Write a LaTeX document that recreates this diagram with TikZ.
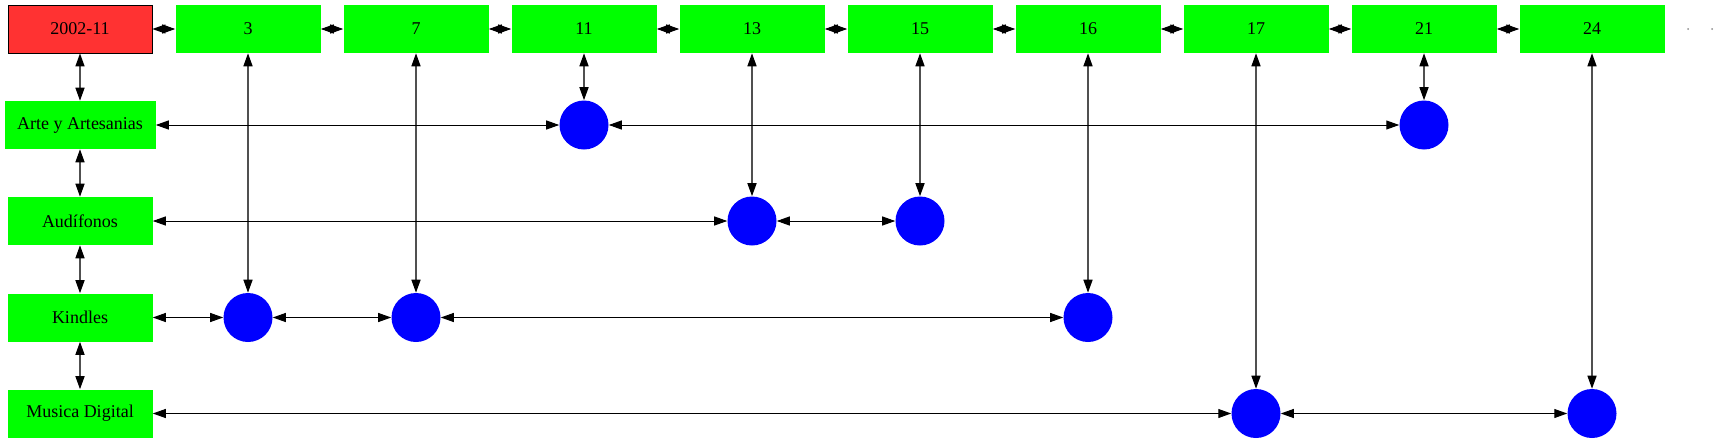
\documentclass[tikz,border=0pt]{standalone}
\usepackage{fontspec}
\setmainfont{Liberation Serif}
\usetikzlibrary{arrows.meta}
\definecolor{hdr}{RGB}{0, 255, 0}
\definecolor{now}{RGB}{255, 50, 50}
\definecolor{hit}{RGB}{0, 0, 255}
\definecolor{vln}{RGB}{80, 80, 80}

\begin{document}
\begin{tikzpicture}[x=0.75pt, y=-0.75pt,
    every node/.style={font=\fontsize{13.5}{16}\selectfont, inner sep=0pt},
    hbox/.style={fill=hdr, minimum width=108.75pt, minimum height=36pt},
    dbox/.style={fill=now, draw=black, line width=0.6pt, minimum width=108pt, minimum height=36pt},
    hit/.style={circle, fill=hit, minimum size=36.75pt},
    tip/.style={{Triangle[length=9.75pt, width=6.75pt, color=black]}-{Triangle[length=9.75pt, width=6.75pt, color=black]}},
    hl/.style={tip, draw=black, line width=0.75pt},
    vl/.style={tip, draw=vln, line width=1.1pt}]
      \useasboundingbox (0, 0) rectangle (1719, 443);
      % header row
      \node[dbox] (d) at (80, 29) {2002-11};
      \node[hbox] (h3) at (248, 29) {3};
      \node[hbox] (h7) at (416, 29) {7};
      \node[hbox] (h11) at (584, 29) {11};
      \node[hbox] (h13) at (752, 29) {13};
      \node[hbox] (h15) at (920, 29) {15};
      \node[hbox] (h16) at (1088, 29) {16};
      \node[hbox] (h17) at (1256, 29) {17};
      \node[hbox] (h21) at (1424, 29) {21};
      \node[hbox] (h24) at (1592, 29) {24};
      \node[circle, fill=black!45, minimum size=1.5pt] (e1) at (1688, 29) {};
      \node[circle, fill=black!45, minimum size=1.5pt] (e2) at (1712, 29) {};
      % categories
      \node[hbox, minimum width=113.25pt] (art) at (80, 125) {Arte y Artesanias};
      \node[hbox] (aud) at (80, 221) {Audífonos};
      \node[hbox] (kin) at (80, 317.5) {Kindles};
      \node[hbox] (mus) at (80, 413.5) {Musica Digital};
      % hits
      \node[hit] (a11) at (584, 125) {};
      \node[hit] (a21) at (1424, 125) {};
      \node[hit] (b13) at (752, 221) {};
      \node[hit] (b15) at (920, 221) {};
      \node[hit] (k3) at (248, 317.5) {};
      \node[hit] (k7) at (416, 317.5) {};
      \node[hit] (k16) at (1088, 317.5) {};
      \node[hit] (m17) at (1256, 413.5) {};
      \node[hit] (m24) at (1592, 413.5) {};
      \draw[hl] (d) -- (h3);
      \draw[hl] (h3) -- (h7);
      \draw[hl] (h7) -- (h11);
      \draw[hl] (h11) -- (h13);
      \draw[hl] (h13) -- (h15);
      \draw[hl] (h15) -- (h16);
      \draw[hl] (h16) -- (h17);
      \draw[hl] (h17) -- (h21);
      \draw[hl] (h21) -- (h24);
      \draw[vl] (d) -- (art);
      \draw[vl] (art) -- (aud);
      \draw[vl] (aud) -- (kin);
      \draw[vl] (kin) -- (mus);
      \draw[vl] (h3) -- (k3);
      \draw[vl] (h7) -- (k7);
      \draw[vl] (h11) -- (a11);
      \draw[vl] (h13) -- (b13);
      \draw[vl] (h15) -- (b15);
      \draw[vl] (h16) -- (k16);
      \draw[vl] (h17) -- (m17);
      \draw[vl] (h21) -- (a21);
      \draw[vl] (h24) -- (m24);
      \draw[hl] (art) -- (a11);
      \draw[hl] (a11) -- (a21);
      \draw[hl] (aud) -- (b13);
      \draw[hl] (b13) -- (b15);
      \draw[hl] (kin) -- (k3);
      \draw[hl] (k3) -- (k7);
      \draw[hl] (k7) -- (k16);
      \draw[hl] (mus) -- (m17);
      \draw[hl] (m17) -- (m24);
    \end{tikzpicture}
\end{document}
